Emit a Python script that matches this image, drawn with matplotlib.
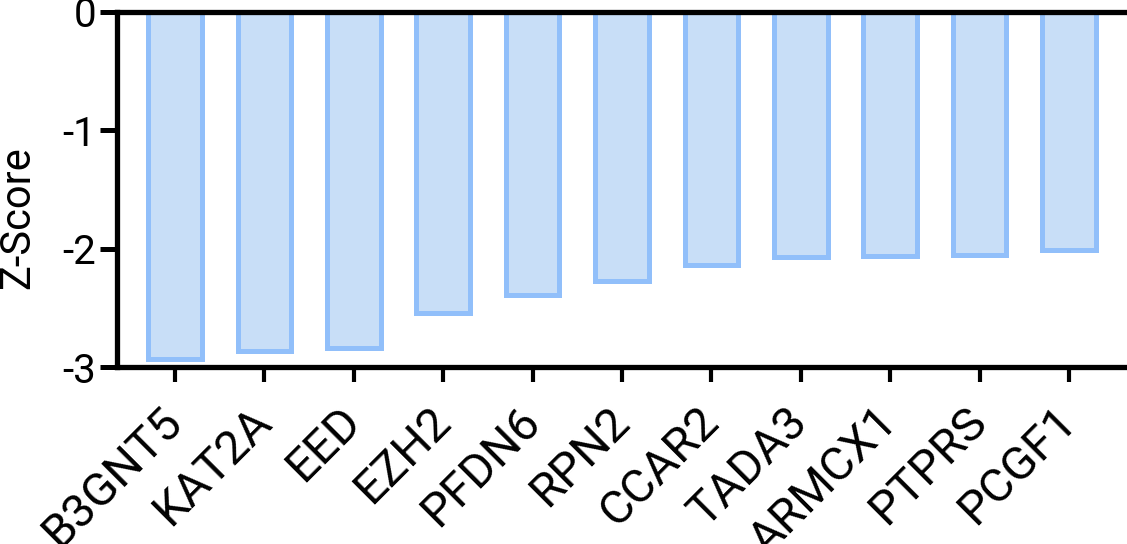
import matplotlib

matplotlib.use("Agg")
import matplotlib.pyplot as plt

genes = ["B3GNT5", "KAT2A", "EED", "EZH2", "PFDN6", "RPN2",
         "CCAR2", "TADA3", "ARMCX1", "PTPRS", "PCGF1"]
z_scores = [-2.93, -2.86, -2.84, -2.54, -2.39, -2.27,
            -2.14, -2.07, -2.06, -2.05, -2.01]
y_ticks = [0, -1, -2, -3]

fill_color = "#C8DEF7"
edge_color = "#91BFFA"

plt.rcParams["font.family"] = ["Roboto", "DejaVu Sans"]
plt.rcParams["axes.unicode_minus"] = False

fig = plt.figure(figsize=(11.27, 5.44), dpi=100)
ax = fig.add_axes([0.1038, 0.325, 0.8962, 0.653])

x = list(range(len(genes)))
ax.bar(x, z_scores, width=0.6, color=fill_color, edgecolor=edge_color,
       linewidth=3.6, zorder=2)

ax.set_xlim(-0.65, 10.65)
ax.set_ylim(-3, 0)
ax.set_yticks(y_ticks)
ax.set_yticklabels([str(v) for v in y_ticks])
ax.set_xticks(x)
ax.set_xticklabels(genes, rotation=45, ha="right", va="center",
                   rotation_mode="anchor")

for side in ["left", "top", "bottom"]:
    ax.spines[side].set_linewidth(3.8)
    ax.spines[side].set_color("black")
    ax.spines[side].set_zorder(3)
ax.spines["right"].set_visible(False)

ax.tick_params(axis="y", length=12, width=3.6, labelsize=29, pad=3)
ax.tick_params(axis="x", length=11, width=3.0, labelsize=34, pad=23)

# y label placed directly in figure pixels
fig.text(18 / 1127, 1 - 218 / 544, "Z-Score", rotation=90, fontsize=30,
         ha="center", va="center")

fig.savefig("out.png", dpi=100)
